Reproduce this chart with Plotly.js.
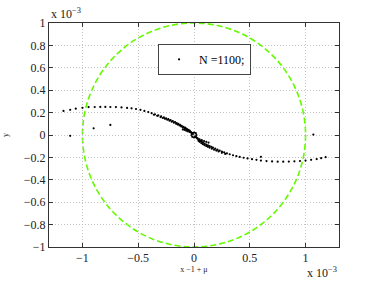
<!DOCTYPE html>
<html>
<head>
<meta charset="utf-8">
<script src="https://cdn.plot.ly/plotly-3.0.1.min.js"></script>
<style>html,body{margin:0;padding:0;background:#fff;}#chart{width:374px;height:281px;}</style>
</head>
<body>
<div id="chart"></div>
<script>
// values in units of 1e-3
const leftArmX = [-1.17,-1.11,-1.06,-1.00,-0.945,-0.89,-0.84,-0.795,-0.75,-0.70,-0.65,-0.60,-0.56,-0.52,-0.48,-0.445,-0.41,-0.38,-0.35,-0.32,-0.295,-0.27,-0.25,-0.23,-0.21,-0.19,-0.17,-0.155,-0.14,-0.125,-0.11,-0.095,-0.08,-0.07,-0.06,-0.05,-0.04,-0.03,-0.02,-0.01];
const leftArmY = [0.215,0.225,0.235,0.243,0.249,0.250,0.251,0.251,0.250,0.249,0.246,0.242,0.238,0.232,0.225,0.215,0.205,0.195,0.185,0.175,0.166,0.157,0.149,0.141,0.133,0.124,0.115,0.107,0.099,0.090,0.082,0.073,0.065,0.058,0.051,0.044,0.036,0.028,0.019,0.010];
const innerLeftX = [-0.36,-0.33,-0.30,-0.28,-0.26,-0.24,-0.22,-0.20,-0.18,-0.16,-0.145,-0.13,-0.115,-0.10,-0.085,-0.07,-0.055,-0.04];
const innerLeftY = [0.181,0.171,0.160,0.152,0.144,0.136,0.128,0.119,0.110,0.100,0.093,0.085,0.077,0.069,0.061,0.053,0.046,0.039];
const rightArmX = [0.01,0.02,0.03,0.04,0.05,0.06,0.07,0.08,0.095,0.11,0.125,0.14,0.155,0.17,0.19,0.21,0.23,0.25,0.27,0.295,0.32,0.35,0.38,0.41,0.445,0.48,0.52,0.56,0.60,0.65,0.70,0.75,0.80,0.85,0.90,0.95,1.00,1.05,1.10,1.14,1.18];
const rightArmY = [-0.012,-0.022,-0.031,-0.039,-0.047,-0.054,-0.061,-0.068,-0.077,-0.085,-0.092,-0.099,-0.106,-0.113,-0.122,-0.131,-0.140,-0.148,-0.155,-0.164,-0.172,-0.181,-0.189,-0.196,-0.203,-0.209,-0.216,-0.222,-0.228,-0.233,-0.236,-0.238,-0.238,-0.237,-0.235,-0.232,-0.228,-0.222,-0.215,-0.207,-0.198];
const innerRightX = [0.04,0.05,0.065,0.08,0.095,0.11,0.125,0.14,0.16,0.18,0.20,0.22,0.25,0.28];
const innerRightY = [-0.052,-0.061,-0.072,-0.082,-0.091,-0.099,-0.106,-0.113,-0.122,-0.131,-0.139,-0.147,-0.159,-0.169];
const dashLeftX = [-0.10,-0.085,-0.07,-0.055,-0.04,-0.025];
const dashLeftY = [0.050,0.045,0.039,0.033,0.027,0.021];
const dashRightX = [0.03,0.05,0.07,0.09,0.11,0.13];
const dashRightY = [-0.030,-0.038,-0.046,-0.054,-0.061,-0.068];
const loopX = [0.022,0.016,0,-0.016,-0.022,-0.016,0,0.016];
const loopY = [0,0.016,0.022,0.016,0,-0.016,-0.022,-0.016];
const strayX = [-1.11,-0.90,-0.75,1.07,0.60];
const strayY = [-0.007,0.060,0.090,0.004,-0.195];
const circleRadius = 1.0;
const legendLabel = 'N =1100;';
const xTicks = [-1,-0.5,0,0.5,1];
const yTicks = [-1,-0.8,-0.6,-0.4,-0.2,0,0.2,0.4,0.6,0.8,1];

const allX = [].concat(leftArmX, innerLeftX, dashLeftX, loopX, dashRightX, innerRightX, rightArmX, strayX);
const allY = [].concat(leftArmY, innerLeftY, dashLeftY, loopY, dashRightY, innerRightY, rightArmY, strayY);

const serif = 'Liberation Serif, Times New Roman, serif';
const traces = [{
  x: allX, y: allY, type: 'scatter', mode: 'markers', name: legendLabel,
  marker: {color: '#000', size: 2.2, symbol: 'circle', line: {width: 0}}
}];

const axisCommon = {
  showline: true, linecolor: '#333', linewidth: 1, mirror: 'allticks',
  ticks: 'inside', ticklen: 4, tickcolor: '#333',
  showgrid: true, gridcolor: '#c4c4c4', griddash: '1px,2px', gridwidth: 1,
  zeroline: false, tickfont: {family: serif, size: 12, color: '#222'}
};

const layout = {
  width: 374, height: 281,
  margin: {l: 49, r: 35, t: 23, b: 34},
  paper_bgcolor: '#fff', plot_bgcolor: '#fff',
  showlegend: true,
  legend: {x: 0.376, y: 0.907, xanchor: 'left', yanchor: 'top',
    bordercolor: '#444', borderwidth: 1, bgcolor: '#fff',
    font: {family: serif, size: 12, color: '#000'}, itemwidth: 30},
  xaxis: Object.assign({}, axisCommon, {range: [-1.3, 1.3], tickvals: xTicks,
    title: {text: 'x −1 + μ', font: {family: serif, size: 8, color: '#222'}, standoff: 0}}),
  yaxis: Object.assign({}, axisCommon, {range: [-1, 1], tickvals: yTicks,
    title: {text: 'y', font: {family: serif, size: 8, color: '#222'}, standoff: 14}}),
  shapes: [{type: 'circle', xref: 'x', yref: 'y',
    x0: -circleRadius, x1: circleRadius, y0: -circleRadius, y1: circleRadius,
    line: {color: 'rgb(100,250,0)', width: 1.6, dash: '6px,3px'}, layer: 'below'}],
  annotations: [
    {xref: 'paper', yref: 'paper', x: 0, y: 1, xanchor: 'left', yanchor: 'bottom', yshift: 0,
     text: 'x 10<sup>−3</sup>', showarrow: false, font: {family: serif, size: 12, color: '#222'}},
    {xref: 'paper', yref: 'paper', x: 1, y: 0, xanchor: 'right', yanchor: 'top', yshift: -16,
     text: 'x 10<sup>−3</sup>', showarrow: false, font: {family: serif, size: 12, color: '#222'}}
  ]
};

Plotly.newPlot('chart', traces, layout, {displayModeBar: false, staticPlot: true});
</script>
</body>
</html>
